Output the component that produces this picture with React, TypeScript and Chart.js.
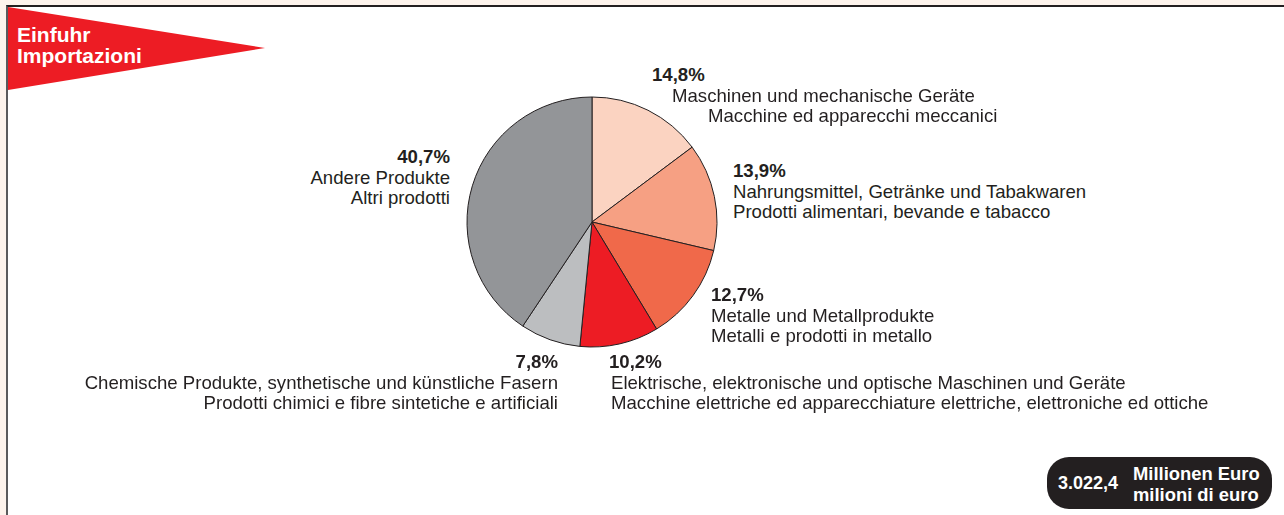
import React, { useEffect, useRef } from "react";
import { Chart, registerables } from "chart.js";

Chart.register(...registerables);

const shares = [14.8, 13.9, 12.7, 10.2, 7.8, 40.7];
const labelsDE = [
  "Maschinen und mechanische Geräte",
  "Nahrungsmittel, Getränke und Tabakwaren",
  "Metalle und Metallprodukte",
  "Elektrische, elektronische und optische Maschinen und Geräte",
  "Chemische Produkte, synthetische und künstliche Fasern",
  "Andere Produkte",
];
const labelsIT = [
  "Macchine ed apparecchi meccanici",
  "Prodotti alimentari, bevande e tabacco",
  "Metalli e prodotti in metallo",
  "Macchine elettriche ed apparecchiature elettriche, elettroniche ed ottiche",
  "Prodotti chimici e fibre sintetiche e artificiali",
  "Altri prodotti",
];
const sliceColors = ["#fbd3c1", "#f6a083", "#f0694a", "#ed1c24", "#bcbec0", "#939598"];
const titleLines = ["Einfuhr", "Importazioni"];
const totalValue = "3.022,4";
const unitLines = ["Millionen Euro", "milioni di euro"];

// label placement: [pctX, deX, itX, topCenterY, align]
const labelPlacement: Array<[number, number, number, number, "left" | "right"]> = [
  [652, 672, 708, 75, "left"],
  [733, 733, 733, 171, "left"],
  [711, 711, 711, 295, "left"],
  [609, 611, 611, 362, "left"],
  [558, 558, 558, 362, "right"],
  [450, 450, 450, 157, "right"],
];

const FONT = "'Liberation Sans', Arial, Helvetica, sans-serif";
const TEXT = "#231f20";
const LH = 20.7;

function fmt(v: number) {
  return v.toFixed(1).replace(".", ",") + "%";
}

function Line(props: { x: number; cy: number; align: "left" | "right"; bold?: boolean; text: string }) {
  const { x, cy, align, bold, text } = props;
  const style: React.CSSProperties = {
    position: "absolute",
    top: cy - 11,
    height: 22,
    lineHeight: "22px",
    whiteSpace: "nowrap",
    fontFamily: FONT,
    fontSize: 18.6,
    fontWeight: bold ? 700 : 400,
    color: TEXT,
  };
  if (align === "left") style.left = x;
  else style.right = 1284 - x;
  return <div style={style}>{text}</div>;
}

export default function App() {
  const ref = useRef<HTMLCanvasElement | null>(null);
  useEffect(() => {
    if (!ref.current) return;
    const chart = new Chart(ref.current, {
      type: "pie",
      data: {
        labels: labelsDE,
        datasets: [
          {
            data: shares,
            backgroundColor: sliceColors,
            borderColor: "#231f20",
            borderWidth: 1,
          },
        ],
      },
      options: {
        animation: false,
        responsive: false,
        radius: 125,
        layout: { padding: 0 },
        plugins: { legend: { display: false }, tooltip: { enabled: false } },
      } as any,
    });
    return () => chart.destroy();
  }, []);

  return (
    <div
      style={{
        position: "absolute",
        left: 0,
        top: 0,
        width: 1284,
        height: 515,
        background: "#fdf3ec",
        overflow: "hidden",
      }}
    >
      <div
        style={{
          position: "absolute",
          left: 6,
          top: 5,
          width: 1290,
          height: 520,
          background: "#ffffff",
          borderTop: "2px solid #231f20",
          borderLeft: "2px solid #5a5a5c",
          boxSizing: "border-box",
        }}
      />
      <svg style={{ position: "absolute", left: 0, top: 0 }} width={300} height={100}>
        <polygon points="8,7 265,48 8,90" fill="#ed1c24" />
      </svg>
      {titleLines.map((t, i) => (
        <div
          key={t}
          style={{
            position: "absolute",
            left: 17,
            top: 35 + i * 21 - 12,
            height: 24,
            lineHeight: "24px",
            fontFamily: FONT,
            fontWeight: 700,
            fontSize: 21,
            color: "#ffffff",
            whiteSpace: "nowrap",
          }}
        >
          {t}
        </div>
      ))}
      <canvas
        ref={ref}
        width={260}
        height={260}
        style={{ position: "absolute", left: 461.5, top: 91.5, width: 260, height: 260 }}
      />
      {shares.map((v, i) => {
        const [px, dx, ix, cy, align] = labelPlacement[i];
        return (
          <React.Fragment key={i}>
            <Line x={px} cy={cy} align={align} bold text={fmt(v)} />
            <Line x={dx} cy={cy + LH} align={align} text={labelsDE[i]} />
            <Line x={ix} cy={cy + 2 * LH} align={align} text={labelsIT[i]} />
          </React.Fragment>
        );
      })}
      <div
        style={{
          position: "absolute",
          left: 1047,
          top: 457,
          width: 225,
          height: 52,
          borderRadius: 22,
          background: "#231f20",
        }}
      />
      <div
        style={{
          position: "absolute",
          left: 1058,
          top: 483 - 12,
          height: 24,
          lineHeight: "24px",
          fontFamily: FONT,
          fontWeight: 700,
          fontSize: 18,
          color: "#ffffff",
          whiteSpace: "nowrap",
        }}
      >
        {totalValue}
      </div>
      {unitLines.map((t, i) => (
        <div
          key={t}
          style={{
            position: "absolute",
            left: 1133,
            top: 474 + i * 21 - 12,
            height: 24,
            lineHeight: "24px",
            fontFamily: FONT,
            fontWeight: 700,
            fontSize: 18.4,
            color: "#ffffff",
            whiteSpace: "nowrap",
          }}
        >
          {t}
        </div>
      ))}
    </div>
  );
}
